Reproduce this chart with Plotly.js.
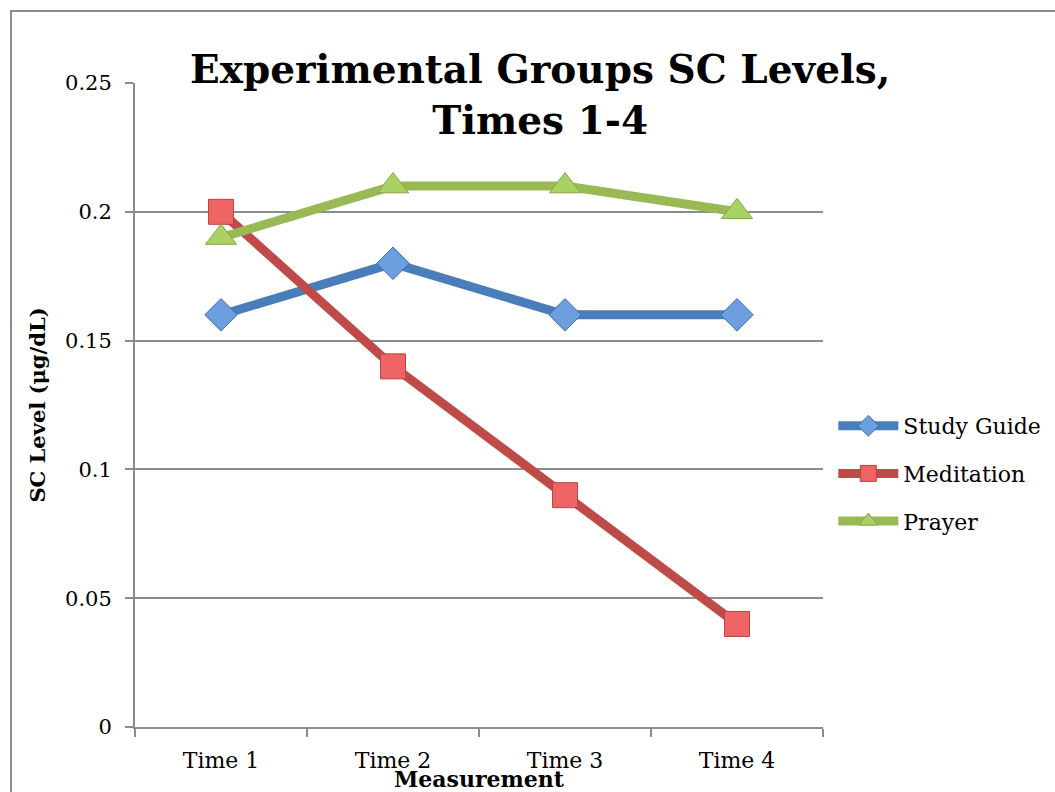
<!DOCTYPE html>
<html><head><meta charset="utf-8">
<script src="https://cdn.plot.ly/plotly-3.0.1.min.js"></script>
<style>
html,body{margin:0;padding:0;background:#fff;overflow:hidden;width:1055px;height:792px;}
#frame{position:absolute;left:10px;top:10px;width:1100px;height:900px;border:2px solid #8c8c8c;}
#chart{position:absolute;left:0;top:0;width:1055px;height:792px;}
</style></head>
<body><div id="frame"></div><div id="chart"></div>
<script>
const categories = ["Time 1", "Time 2", "Time 3", "Time 4"];
const studyGuide = [0.16, 0.18, 0.16, 0.16];
const meditation = [0.2, 0.14, 0.09, 0.04];
const prayer = [0.19, 0.21, 0.21, 0.2];
const seriesNames = ["Study Guide", "Meditation", "Prayer"];

const FONT = "DejaVu Serif, Liberation Serif, serif";

const traces = [
  {x: categories, y: studyGuide, name: seriesNames[0], legendgroup: "a", type: "scatter", mode: "lines+markers",
   line: {color: "#4A7EBB", width: 9}, marker: {symbol: "diamond", size: 25, color: "#6C9EE0", line: {color: "#3F6FAA", width: 1}}},
  {x: categories, y: meditation, name: seriesNames[1], legendgroup: "b", type: "scatter", mode: "lines+markers",
   line: {color: "#BE4B48", width: 9}, marker: {symbol: "square", size: 25, color: "#EE6464", line: {color: "#B84542", width: 1}}},
  {x: categories, y: prayer, name: seriesNames[2], legendgroup: "c", type: "scatter", mode: "lines+markers",
   line: {color: "#98B954", width: 9}, marker: {symbol: "triangle-up", size: 27, color: "#A9D164", line: {color: "#86A648", width: 1}}}
];

const layout = {
  width: 1055, height: 792,
  paper_bgcolor: "rgba(0,0,0,0)", plot_bgcolor: "rgba(0,0,0,0)",
  margin: {l: 135, r: 232, t: 83, b: 65, autoexpand: false},
  font: {family: FONT, color: "#000", size: 20},
  title: {text: "<b>Experimental Groups SC Levels,<br>Times 1-4</b>", font: {family: FONT, size: 39, color: "#000"},
          xref: "container", x: 0.512, xanchor: "center", yref: "container", y: 0.895, yanchor: "middle"},
  xaxis: {type: "category", range: [-0.5, 3.5], tickson: "boundaries", ticks: "outside", ticklen: 8, tickcolor: "#8c8c8c", tickwidth: 2,
          showgrid: false, showline: true, linecolor: "#8c8c8c", linewidth: 2, zeroline: false,
          tickfont: {size: 22, family: FONT}, ticklabelstandoff: 13, fixedrange: true,
          title: {text: "<b>Measurement</b>", font: {size: 22, family: FONT}, standoff: 0}},
  yaxis: {range: [0, 0.25], dtick: 0.05, ticks: "outside", ticklen: 8, tickcolor: "#8c8c8c", tickwidth: 2,
          showgrid: true, gridcolor: "#8c8c8c", gridwidth: 2, showline: true, linecolor: "#8c8c8c", linewidth: 2,
          zeroline: false, tickfont: {size: 21, family: FONT}, ticklabelstandoff: 9,
          title: {text: "<b>SC Level (μg/dL)</b>", font: {size: 21, family: FONT}, standoff: 14}},
  legend: {x: 1.015, xanchor: "left", y: 0.5, yanchor: "top", font: {size: 22, family: FONT}, tracegroupgap: 16,
           itemwidth: 60, bgcolor: "rgba(0,0,0,0)"},
  showlegend: true
};

Plotly.newPlot("chart", traces, layout, {displayModeBar: false, staticPlot: true});
</script></body></html>
